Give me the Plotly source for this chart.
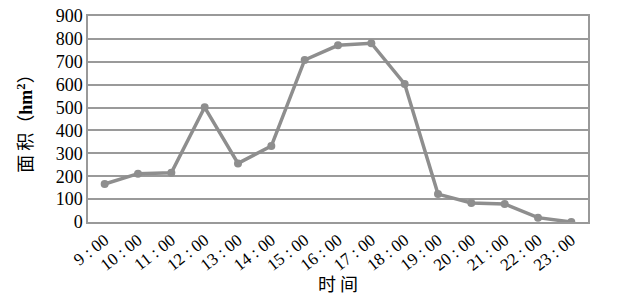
import plotly.graph_objects as go

times = ["9:00", "10:00", "11:00", "12:00", "13:00", "14:00", "15:00", "16:00",
         "17:00", "18:00", "19:00", "20:00", "21:00", "22:00", "23:00"]
tick_labels = ["9 : 00", "10 : 00", "11 : 00", "12 : 00", "13 : 00", "14 : 00", "15 : 00",
               "16 : 00", "17 : 00", "18 : 00", "19 : 00", "20 : 00", "21 : 00", "22 : 00",
               "23 : 00"]
area = [166, 211, 215, 501, 256, 332, 708, 772, 781, 603, 122, 83, 79, 19, 0]
y_ticks = [0, 100, 200, 300, 400, 500, 600, 700, 800, 900]

fig = go.Figure()
fig.add_trace(go.Scatter(
    x=list(range(len(times))), y=area, mode="lines+markers",
    line=dict(color="#8e8e8e", width=3.5),
    marker=dict(color="#8e8e8e", size=8),
    showlegend=False,
))

serif = "Liberation Serif, Times New Roman, serif"
fig.update_layout(
    width=625, height=305,
    margin=dict(l=88, r=37, t=16, b=83, autoexpand=False),
    paper_bgcolor="white", plot_bgcolor="white",
    font=dict(family=serif, color="black", size=17),
)
fig.update_xaxes(
    range=[-0.5, len(times) - 0.5], automargin=False,
    tickmode="array", tickvals=list(range(len(times))), ticktext=tick_labels,
    tickangle=-38, tickfont=dict(size=17, family=serif),
    showgrid=False, showline=True, linecolor="#999999", linewidth=1.5,
    mirror=True, ticks="", zeroline=False,
)
fig.add_annotation(
    text="时 间", xref="paper", yref="paper", x=0.5, y=-(283 - 222) / 206,
    xanchor="center", yanchor="middle", showarrow=False,
    font=dict(size=18, family="Noto Sans CJK SC", color="black"),
)
fig.update_yaxes(
    range=[0, 900], tickmode="array", tickvals=y_ticks, automargin=False,
    ticktext=[str(v) for v in y_ticks],
    tickfont=dict(size=18, family=serif),
    showgrid=True, gridcolor="#9a9a9a", gridwidth=1.5,
    showline=True, linecolor="#999999", linewidth=1.5, mirror=True,
    ticks="", zeroline=False,
    title=dict(text="<span style='font-family:Noto Sans CJK SC'>面 积（</span><b>hm<sup>2</sup></b><span style='font-family:Noto Sans CJK SC'>）</span>",
               font=dict(size=18, family=serif), standoff=18),
)

fig.write_html("out.html")
